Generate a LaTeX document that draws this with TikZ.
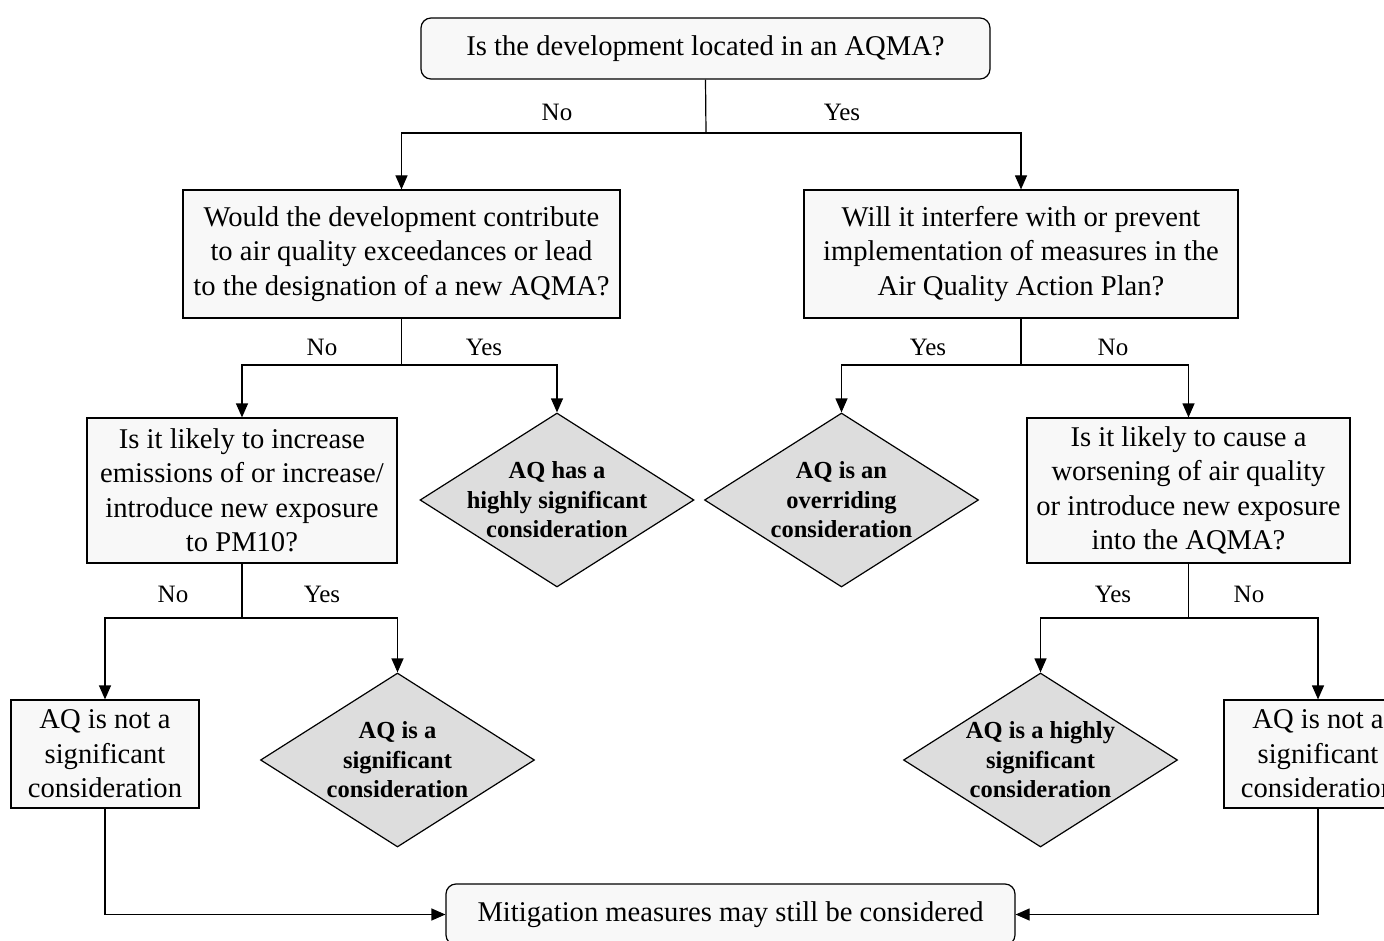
\documentclass[tikz,border=0pt]{standalone}
\usepackage{fontspec}
\setmainfont{Liberation Serif}
\usetikzlibrary{shapes.geometric,arrows.meta}
\definecolor{boxfill}{RGB}{248,248,248}
\definecolor{diafill}{RGB}{221,221,221}
\newcommand{\mainsz}{\fontsize{28.6}{34.5}\selectfont}
\newcommand{\diasz}{\fontsize{24.5}{29.5}\selectfont\bfseries}
\newcommand{\lblsz}{\fontsize{25}{28}\selectfont}
\begin{document}
\begin{tikzpicture}[x=1pt,y=-1pt,
  box/.style={draw, line width=1.2pt, fill=boxfill, inner sep=0pt, align=center, font=\mainsz},
  rbox/.style={box, rounded corners=10pt},
  dia/.style={diamond, draw, line width=1.2pt, fill=diafill, inner sep=0pt, minimum width=274pt, minimum height=174pt},
  dtext/.style={align=center, font=\diasz, inner sep=0pt},
  lbl/.style={font=\lblsz, inner sep=0pt},
  conn/.style={line width=1.2pt},
  arr/.style={conn, -{Triangle[length=14pt,width=12pt]}}]
\useasboundingbox (0,0) rectangle (1384,941);
\clip (0,0) rectangle (1384,941);

% nodes
\node[rbox, minimum width=569pt, minimum height=61pt] (top) at (705.5,48.5) {Is the development located in an AQMA?};
\node[box, minimum width=437pt, minimum height=128pt] (L1) at (401.5,254) {Would the development contribute\\to air quality exceedances or lead\\to the designation of a new AQMA?};
\node[box, minimum width=434pt, minimum height=128pt] (R1) at (1021,254) {Will it interfere with or prevent\\implementation of measures in the\\Air Quality Action Plan?};
\node[box, minimum width=310pt, minimum height=145pt] (L2) at (242,490.5) {Is it likely to increase\\emissions of or increase/\\introduce new exposure\\to PM10?};
\node[dia] (D1) at (557,500) {};
\node[dtext] (D1t) at (D1.center) {AQ has a\\highly significant\\consideration};
\node[dia] (D2) at (841.5,500) {};
\node[dtext] (D2t) at (D2.center) {AQ is an\\overriding\\consideration};
\node[box, minimum width=323pt, minimum height=145pt] (R2) at (1188.5,490.5) {Is it likely to cause a\\worsening of air quality\\or introduce new exposure\\into the AQMA?};
\node[box, minimum width=188pt, minimum height=108pt] (L3) at (105,754) {AQ is not a\\significant\\consideration};
\node[dia] (D3) at (397.5,760) {};
\node[dtext] (D3t) at (D3.center) {AQ is a\\significant\\consideration};
\node[dia] (D4) at (1040.5,760) {};
\node[dtext] (D4t) at (D4.center) {AQ is a highly\\significant\\consideration};
\node[box, minimum width=188pt, minimum height=108pt] (R3) at (1318,754) {AQ is not a\\significant\\consideration};
\node[rbox, minimum width=569pt, minimum height=61pt] (bot) at (730.5,914.5) {Mitigation measures may still be considered};

% junctions
\coordinate (j1) at (706,133);
\coordinate (j2) at (401.5,365);
\coordinate (j3) at (1021,365);
\coordinate (j4) at (242,618);
\coordinate (j5) at (1188.5,618);

% connectors
\draw[conn] (top.south) -- (j1);
\draw[arr] (j1) -| (L1.north);
\draw[arr] (j1) -| (R1.north);
\draw[conn] (L1.south) -- (j2);
\draw[arr] (j2) -| (L2.north);
\draw[arr] (j2) -| (D1.north);
\draw[conn] (R1.south) -- (j3);
\draw[arr] (j3) -| (D2.north);
\draw[arr] (j3) -| (R2.north);
\draw[conn] (L2.south) -- (j4);
\draw[arr] (j4) -| (L3.north);
\draw[arr] (j4) -| (D3.north);
\draw[conn] (R2.south) -- (j5);
\draw[arr] (j5) -| (D4.north);
\draw[arr] (j5) -| (R3.north);
\draw[arr] (L3.south) |- (bot.west);
\draw[arr] (R3.south) |- (bot.east);

% labels
\node[lbl] (n1) at (557,112) {No};
\node[lbl] (y1) at (842,112) {Yes};
\node[lbl] (n2) at (322,347) {No};
\node[lbl] (y2) at (484,347) {Yes};
\node[lbl] (y3) at (928,347) {Yes};
\node[lbl] (n3) at (1113,347) {No};
\node[lbl] (n4) at (173,594) {No};
\node[lbl] (y4) at (322,594) {Yes};
\node[lbl] (y5) at (1113,594) {Yes};
\node[lbl] (n5) at (1249,594) {No};
\end{tikzpicture}
\end{document}
